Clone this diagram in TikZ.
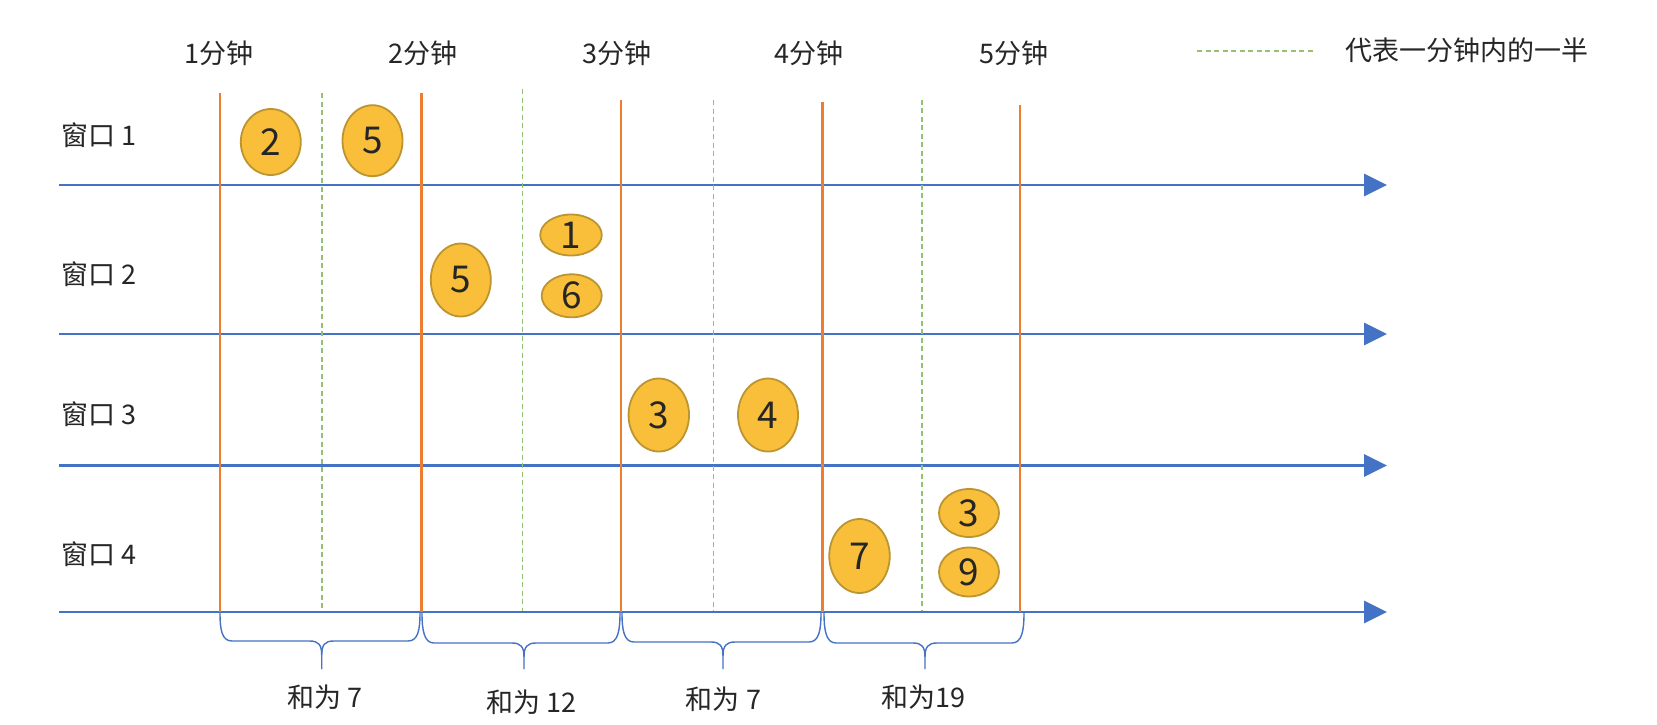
\documentclass[tikz,border=0pt]{standalone}
\usepackage{fontspec}
\setmainfont{Noto Sans CJK SC}
\usetikzlibrary{shapes.geometric,arrows.meta}
\definecolor{axisblue}{HTML}{4472C4}
\definecolor{minorange}{HTML}{ED7D31}
\definecolor{halfgreen}{HTML}{94C273}
\definecolor{ballfill}{HTML}{F9BF3B}
\definecolor{balledge}{HTML}{BC9530}
\definecolor{txt}{HTML}{262626}
\newcommand{\minbrace}[4]{%
  \draw[bracepath] (#1,613) .. controls (#1,630) and ({#1+2},#4) .. ({#1+12},#4)
    -- ({#3-12},#4) .. controls ({#3-3},#4) and (#3,{#4+4}) .. (#3,{#4+14}) -- (#3,669);
  \draw[bracepath] (#3,{#4+14}) .. controls (#3,{#4+4}) and ({#3+3},#4) .. ({#3+12},#4)
    -- ({#2-12},#4) .. controls ({#2-2},#4) and (#2,630) .. (#2,613);
}
\begin{document}
\begin{tikzpicture}[x=1pt,y=-1pt,
  lbl/.style={font=\fontsize{27}{30}\selectfont, text=txt, inner sep=0pt},
  ball/.style={ellipse, draw=balledge, fill=ballfill, line width=1.8pt, inner sep=0pt,
    font=\fontsize{37}{40}\selectfont, text=txt},
  axisline/.style={draw=axisblue, line width=2.8pt, -{Triangle[length=23pt,width=22pt]}},
  minuteline/.style={draw=minorange, line width=2.8pt},
  halfline/.style={draw=halfgreen, line width=1.5pt, dash pattern=on 5pt off 3.5pt},
  bracepath/.style={draw=axisblue, line width=1.4pt}]
\useasboundingbox (0,0) rectangle (1657,724);
\fill[white] (0,0) rectangle (1657,724);

% top labels
\node[lbl] (m1) at (219,53) {1分钟};
\node[lbl] (m2) at (423,53) {2分钟};
\node[lbl] (m3) at (617,53) {3分钟};
\node[lbl] (m4) at (809,53) {4分钟};
\node[lbl] (m5) at (1013.5,53) {5分钟};

% legend
\coordinate (lg1) at (1197,51);
\coordinate (lg2) at (1313,51);
\draw[halfline] (lg1) -- (lg2);
\node[lbl, anchor=west] (legend) at (1345,50) {代表一分钟内的一半};

% row labels
\node[lbl, anchor=west] (w1) at (61,135) {窗口 1};
\node[lbl, anchor=west] (w2) at (61,274) {窗口 2};
\node[lbl, anchor=west] (w3) at (61,414) {窗口 3};
\node[lbl, anchor=west] (w4) at (61,554) {窗口 4};

% time axes
\foreach \i/\y in {1/185,2/334,3/465.5,4/612}{
  \coordinate (as\i) at (59,\y);
  \coordinate (ae\i) at (1387,\y);
  \draw[axisline] (as\i) -- (ae\i);
}

% half-minute lines
\foreach \i/\x/\t in {1/322/93,2/522.5/89,3/713.5/100,4/922/99.5}{
  \coordinate (ht\i) at (\x,\t);
  \coordinate (hb\i) at (\x,611);
  \draw[halfline] (ht\i) -- (hb\i);
}

% minute lines
\foreach \i/\x/\t in {1/220/93,2/421.7/93,3/621/100,4/822.5/102,5/1020/105}{
  \coordinate (mt\i) at (\x,\t);
  \coordinate (mb\i) at (\x,612);
  \draw[minuteline] (mt\i) -- (mb\i);
}

% values
\node[ball, minimum width=60pt, minimum height=66pt] (b1a) at (270.8,142) {2};
\node[ball, minimum width=60pt, minimum height=71pt] (b1b) at (372.5,140.7) {5};
\node[ball, minimum width=60pt, minimum height=73pt] (b2a) at (460.8,280) {5};
\node[ball, minimum width=61.5pt, minimum height=41pt] (b2b) at (571,235) {1};
\node[ball, minimum width=60pt, minimum height=43pt] (b2c) at (571.7,295.8) {6};
\node[ball, minimum width=60.5pt, minimum height=73pt] (b3a) at (658.8,415) {3};
\node[ball, minimum width=60pt, minimum height=73pt] (b3b) at (768,415) {4};
\node[ball, minimum width=60.5pt, minimum height=74pt] (b4a) at (859.5,556) {7};
\node[ball, minimum width=60pt, minimum height=48pt] (b4b) at (969,513) {3};
\node[ball, minimum width=60pt, minimum height=49pt] (b4c) at (969,572) {9};

% braces
\minbrace{220}{420}{321.7}{641}
\minbrace{422}{620}{524}{643}
\minbrace{622}{821}{723}{642}
\minbrace{824}{1024}{925}{643}

% sums
\node[lbl] (s1) at (325,697) {和为 7};
\node[lbl] (s2) at (531.5,702) {和为 12};
\node[lbl] (s3) at (723.5,699) {和为 7};
\node[lbl] (s4) at (923,697) {和为19};
\end{tikzpicture}
\end{document}
